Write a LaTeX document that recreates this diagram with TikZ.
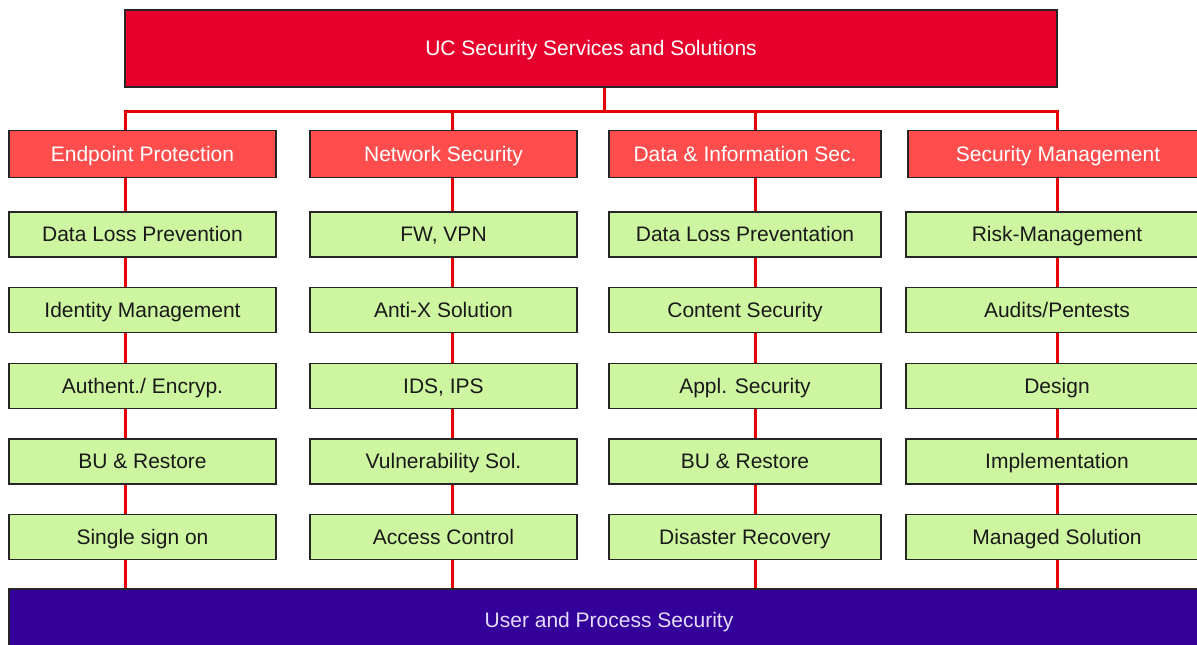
\documentclass[tikz,border=0pt]{standalone}
\usepackage{fontspec}
\setmainfont{Liberation Sans}
\usetikzlibrary{backgrounds}
\definecolor{ucred}{RGB}{232,0,45}
\definecolor{catred}{RGB}{255,77,77}
\definecolor{itemgreen}{RGB}{206,246,160}
\definecolor{baseblue}{RGB}{51,0,153}
\definecolor{baselabel}{RGB}{228,220,250}
\definecolor{linkred}{RGB}{230,0,0}

\begin{document}
\begin{tikzpicture}[x=1pt,y=-1pt]
\tikzstyle{every node}+=[inner sep=0pt, draw=black!85, line width=1.5pt, font=\fontsize{21}{25}\selectfont, text height=17pt, text depth=2.5pt]
\tikzstyle{headbox}=[fill=ucred, text=white, minimum width=932, minimum height=77]
\tikzstyle{catbox}=[fill=catred, text=white, minimum height=47]
\tikzstyle{itembox}=[fill=itemgreen, text=black!90, minimum height=45]
\tikzstyle{basebox}=[fill=baseblue, text=baselabel, minimum width=1200, minimum height=62]
\tikzstyle{link}=[linkred, line width=3pt]

\useasboundingbox (0,0) rectangle (1197,645);

\node[headbox] (ucss) at (591,48.5) {UC Security Services and Solutions};

\coordinate (bus) at (604,111);
\coordinate (b1) at (125,111);
\coordinate (b2) at (452,111);
\coordinate (b3) at (755,111);
\coordinate (b4) at (1057,111);

\node[catbox, minimum width=267] (endp) at (142.5,154) {Endpoint Protection};
\node[catbox, minimum width=267] (netsec) at (443.5,154) {Network Security};
\node[catbox, minimum width=272] (datasec) at (745,154) {Data \& Information Sec.};
\node[catbox, minimum width=300] (secmgmt) at (1058,154) {Security Management};

\node[itembox, minimum width=267] (endp1) at (142.5,234.5) {Data Loss Prevention};
\node[itembox, minimum width=267] (endp2) at (142.5,310) {Identity Management};
\node[itembox, minimum width=267] (endp3) at (142.5,386) {Authent./ Encryp.};
\node[itembox, minimum width=267] (endp4) at (142.5,461.5) {BU \& Restore};
\node[itembox, minimum width=267] (endp5) at (142.5,537) {Single sign on};

\node[itembox, minimum width=267] (netsec1) at (443.5,234.5) {FW, VPN};
\node[itembox, minimum width=267] (netsec2) at (443.5,310) {Anti-X Solution};
\node[itembox, minimum width=267] (netsec3) at (443.5,386) {IDS, IPS};
\node[itembox, minimum width=267] (netsec4) at (443.5,461.5) {Vulnerability Sol.};
\node[itembox, minimum width=267] (netsec5) at (443.5,537) {Access Control};

\node[itembox, minimum width=272] (datasec1) at (745,234.5) {Data Loss Preventation};
\node[itembox, minimum width=272] (datasec2) at (745,310) {Content Security};
\node[itembox, minimum width=272] (datasec3) at (745,386) {Appl. Security};
\node[itembox, minimum width=272] (datasec4) at (745,461.5) {BU \& Restore};
\node[itembox, minimum width=272] (datasec5) at (745,537) {Disaster Recovery};

\node[itembox, minimum width=302] (secmgmt1) at (1057,234.5) {Risk-Management};
\node[itembox, minimum width=302] (secmgmt2) at (1057,310) {Audits/Pentests};
\node[itembox, minimum width=302] (secmgmt3) at (1057,386) {Design};
\node[itembox, minimum width=302] (secmgmt4) at (1057,461.5) {Implementation};
\node[itembox, minimum width=302] (secmgmt5) at (1057,537) {Managed Solution};

\node[basebox] (ups) at (609,620) {User and Process Security};

\begin{pgfonlayer}{background}
\draw[link] (ucss.south -| bus) -- (bus);
\draw[link] (b1 |- ups.north) -- (b1) -- (b4) -- (b4 |- ups.north);
\draw[link] (b2) -- (b2 |- ups.north);
\draw[link] (b3) -- (b3 |- ups.north);
\end{pgfonlayer}
\end{tikzpicture}
\end{document}
